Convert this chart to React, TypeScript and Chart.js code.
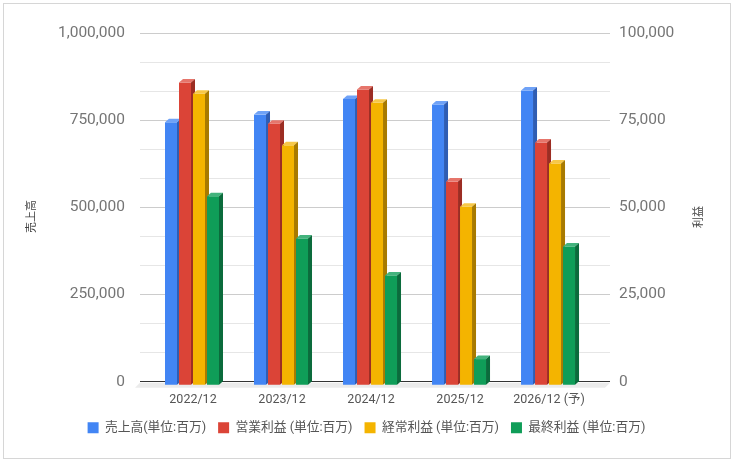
import React, { useEffect, useRef } from 'react';
import { Chart, registerables } from 'chart.js';

Chart.register(...registerables);

// values (millions of yen)
const categories = ['2022/12', '2023/12', '2024/12', '2025/12', '2026/12 (予)'];
const sales = [754000, 776000, 821000, 805000, 845000];
const operatingProfit = [86800, 75000, 84800, 58400, 69600];
const ordinaryProfit = [83600, 68800, 81000, 51200, 63600];
const netProfit = [54200, 42100, 31500, 7500, 39800];

const seriesLabels = ['売上高(単位:百万)', '営業利益 (単位:百万)', '経常利益 (単位:百万)', '最終利益 (単位:百万)'];
const leftAxisTitle = '売上高';
const rightAxisTitle = '利益';
const leftMax = 1000000;
const rightMax = 100000;

const FONT = 'Roboto, "Noto Sans CJK JP", sans-serif';
const FRONT = ['#4285f4', '#db4437', '#f4b400', '#0f9d58'];
const TOP = ['#6fa2f7', '#e6756b', '#f7c848', '#43b37d'];
const SIDE = ['#2f5db3', '#9c2d23', '#a87a00', '#0b6b3c'];

// depth of the fake 3d faces
const DX = 4;
const DY = 3.5;

function quad(ctx: CanvasRenderingContext2D, color: string, pts: number[][]) {
  ctx.fillStyle = color;
  ctx.beginPath();
  ctx.moveTo(pts[0][0], pts[0][1]);
  for (let i = 1; i < pts.length; i++) ctx.lineTo(pts[i][0], pts[i][1]);
  ctx.closePath();
  ctx.fill();
}

const bars3d = {
  id: 'bars3d',
  beforeDraw(chart: any) {
    const { ctx } = chart;
    ctx.save();
    ctx.fillStyle = '#fff';
    ctx.fillRect(0, 0, chart.width, chart.height);
    ctx.strokeStyle = '#d6d6d6';
    ctx.lineWidth = 1;
    ctx.strokeRect(3.5, 3.5, chart.width - 6, chart.height - 6);
    ctx.restore();
  },
  beforeDatasetsDraw(chart: any) {
    const { ctx, chartArea: a } = chart;
    // floor under the zero line
    quad(ctx, '#ebebeb', [
      [a.left, a.bottom + 1],
      [a.right, a.bottom + 1],
      [a.right - 5, a.bottom + 6],
      [a.left - 5, a.bottom + 6],
    ]);
  },
  beforeDatasetDraw() {
    return false;
  },
  afterDatasetsDraw(chart: any) {
    const { ctx } = chart;
    ctx.save();
    chart.data.datasets.forEach((_: any, di: number) => {
      const meta = chart.getDatasetMeta(di);
      meta.data.forEach((el: any) => {
        const { x, y, base, width } = el.getProps(['x', 'y', 'base', 'width'], true);
        const l = x - width / 2;
        const r = l + width - 2;
        const t = y + DY;
        const b = base + DY;
        ctx.fillStyle = FRONT[di];
        ctx.fillRect(l, t, r - l, b - t);
        quad(ctx, TOP[di], [[l, t], [r, t], [r + DX, t - DY], [l + DX, t - DY]]);
        quad(ctx, SIDE[di], [[r, t], [r + DX, t - DY], [r + DX, b - DY], [r, b]]);
      });
    });
    ctx.restore();
  },
  afterDraw(chart: any) {
    const { ctx } = chart;
    ctx.save();
    ctx.font = '11px "Noto Sans CJK JP", sans-serif';
    ctx.fillStyle = '#444';
    ctx.textAlign = 'center';
    ctx.textBaseline = 'middle';
    const titles: [string, number, number][] = [
      [leftAxisTitle, 31, 216.5],
      [rightAxisTitle, 698, 217],
    ];
    titles.forEach(([text, x, y]) => {
      ctx.save();
      ctx.translate(x, y);
      ctx.rotate(-Math.PI / 2);
      ctx.fillText(text, 0, 0);
      ctx.restore();
    });
    ctx.restore();
  },
};

const tickLabel = (v: any, i: number) => (i % 3 === 0 ? Math.round(Number(v)).toLocaleString('en-US') : '');

export default function App() {
  const canvasRef = useRef<HTMLCanvasElement | null>(null);

  useEffect(() => {
    if (!canvasRef.current) return;
    const series = [sales, operatingProfit, ordinaryProfit, netProfit];

    const chart = new Chart(canvasRef.current, {
      type: 'bar',
      data: {
        datasets: series.map((values, i) => ({
          label: seriesLabels[i],
          data: values.map((v, j) => ({ x: j, y: v })),
          backgroundColor: FRONT[i],
          borderWidth: 0,
          barThickness: 14,
          yAxisID: i === 0 ? 'y' : 'y1',
        })),
      },
      options: {
        responsive: true,
        maintainAspectRatio: false,
        animation: false,
        events: [],
        layout: { padding: { top: 33, left: 0, right: 0, bottom: 17 } },
        scales: {
          x: {
            type: 'linear',
            offset: false,
            min: -0.5955,
            max: 4.685,
            grid: { display: false, drawTicks: false, offset: false },
            border: { display: false },
            afterBuildTicks: (scale: any) => {
              scale.ticks = categories.map((_, i) => ({ value: i }));
            },
            afterFit: (scale: any) => {
              scale.height = 27.5;
            },
            ticks: {
              autoSkip: false,
              maxRotation: 0,
              padding: 11,
              color: '#555',
              font: { family: FONT, size: 12.5 },
              callback: (v: any) => categories[Math.round(Number(v))] ?? '',
            },
          },
          y: {
            position: 'left',
            min: 0,
            max: leftMax,
            border: { display: false },
            grid: {
              drawTicks: false,
              color: (c: any) => (c.index === 0 ? '#333' : c.index % 3 === 0 ? '#cccccc' : '#e6e6e6'),
            },
            afterFit: (scale: any) => {
              scale.width = 140;
            },
            ticks: {
              count: 13,
              autoSkip: false,
              padding: 15,
              color: '#757575',
              font: { family: FONT, size: 15.5 },
              callback: tickLabel,
            },
          },
          y1: {
            position: 'right',
            min: 0,
            max: rightMax,
            border: { display: false },
            grid: { drawOnChartArea: false, drawTicks: false },
            afterFit: (scale: any) => {
              scale.width = 123;
            },
            ticks: {
              count: 13,
              autoSkip: false,
              padding: 9,
              color: '#757575',
              font: { family: FONT, size: 15.5 },
              callback: tickLabel,
            },
          },
        },
        plugins: {
          legend: {
            position: 'bottom',
            labels: {
              boxWidth: 11,
              boxHeight: 11,
              padding: 12,
              color: '#555',
              font: { family: FONT, size: 12.75 },
            },
          },
          tooltip: { enabled: false },
        },
      },
      plugins: [bars3d],
    } as any);

    return () => chart.destroy();
  }, []);

  return (
    <div style={{ position: 'fixed', left: 0, top: 0, width: 733, height: 461, background: '#fff' }}>
      <canvas ref={canvasRef} />
    </div>
  );
}
